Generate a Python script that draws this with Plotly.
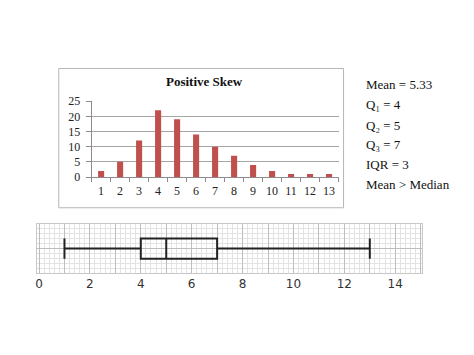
import plotly.graph_objects as go

# ---- data ----
categories = [1, 2, 3, 4, 5, 6, 7, 8, 9, 10, 11, 12, 13]
counts = [2, 5, 12, 22, 19, 14, 10, 7, 4, 2, 1, 1, 1]
bar_yticks = [0, 5, 10, 15, 20, 25]
box_min, box_q1, box_median, box_q3, box_max = [1], [4], [5], [7], [13]
box_xtick_vals = list(range(0, 16))
box_xtick_text = ["0", " ", "2", " ", "4", " ", "6", " ", "8", " ", "10", " ", "12", " ", "14", " "]
stats_lines = ["Mean = 5.33", "Q\u2081 = 4", "Q\u2082 = 5",
               "Q\u2083 = 7", "IQR = 3", "Mean &gt; Median"]
title_text = "Positive Skew"

W, H = 474, 355
def px(x): return x / W
def py(y): return 1 - y / H

fig = go.Figure()

fig.add_trace(go.Bar(
    x=[str(c) for c in categories], y=counts,
    marker=dict(color="#C0504D", line=dict(width=0)),
    width=0.32, xaxis="x", yaxis="y", showlegend=False,
))

fig.add_trace(go.Box(
    y=[1], q1=box_q1, median=box_median, q3=box_q3,
    lowerfence=box_min, upperfence=box_max,
    orientation="h", width=0.82, whiskerwidth=1,
    line=dict(color="#222222", width=2), fillcolor="rgba(0,0,0,0)",
    xaxis="x2", yaxis="y2", showlegend=False, hoverinfo="skip",
))

fig.update_layout(
    width=W, height=H,
    margin=dict(l=0, r=0, t=0, b=0),
    paper_bgcolor="white", plot_bgcolor="white",
    xaxis=dict(
        domain=[px(90), px(338)], anchor="y",
        type="category", showgrid=False,
        showline=True, linecolor="#8c8c8c", linewidth=1,
        ticks="outside", ticklen=4, tickcolor="#8c8c8c", tickson="boundaries",
        tickangle=0,
        tickfont=dict(family="Liberation Serif", size=12, color="#222"),
        ticklabelstandoff=3,
    ),
    yaxis=dict(
        domain=[py(177), py(98)], anchor="x",
        range=[0, 25], tickvals=bar_yticks,
        showgrid=True, gridcolor="#a6a6a6", gridwidth=1,
        showline=True, linecolor="#8c8c8c", linewidth=1,
        ticks="outside", ticklen=5, tickcolor="#8c8c8c",
        tickfont=dict(family="Liberation Serif", size=12, color="#222"),
        ticklabelstandoff=3,
        zeroline=False,
    ),
    xaxis2=dict(
        domain=[px(35), px(422)], anchor="y2",
        range=[-0.085, 15.06],
        tickvals=box_xtick_vals, ticktext=box_xtick_text, tickangle=0,
        showgrid=True, gridcolor="#bdbdbd", gridwidth=1,
        minor=dict(dtick=0.2, tick0=0, showgrid=True, gridcolor="#e3e3e3", gridwidth=1),
        showline=True, linecolor="#c8c8c8", mirror=True,
        zeroline=False, ticks="",
        tickfont=dict(family="DejaVu Sans", size=12, color="#333"),
    ),
    yaxis2=dict(
        domain=[py(277), py(226)], anchor="x2",
        range=[0, 2], dtick=1, showticklabels=False,
        showgrid=True, gridcolor="#bdbdbd", gridwidth=1,
        minor=dict(dtick=0.2, tick0=0, showgrid=True, gridcolor="#e3e3e3", gridwidth=1),
        showline=True, linecolor="#c8c8c8", mirror=True,
        zeroline=False, ticks="",
    ),
    shapes=[dict(type="rect", xref="paper", yref="paper",
                 x0=px(57), x1=px(343), y0=py(209), y1=py(64),
                 line=dict(color="#b5b5b5", width=1), fillcolor="rgba(0,0,0,0)",
                 layer="below")],
)

annotations = [dict(
    text="<b>" + title_text + "</b>", x=px(203), y=py(78), xref="paper", yref="paper",
    showarrow=False, xanchor="center", yanchor="middle",
    font=dict(family="Liberation Serif", size=13, color="#111"),
)]
ys = [81, 102, 123, 143, 164, 185]
for t, yy in zip(stats_lines, ys):
    annotations.append(dict(
        text=t, x=px(364), y=py(yy), xref="paper", yref="paper",
        showarrow=False, xanchor="left", yanchor="middle",
        font=dict(family="Liberation Serif", size=13, color="#111"),
    ))
fig.update_layout(annotations=annotations)

fig.write_html("out.html")
